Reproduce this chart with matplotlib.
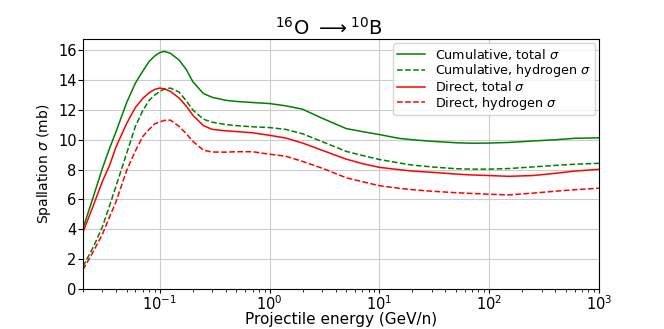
import matplotlib
matplotlib.use("Agg")
import matplotlib.pyplot as plt
import numpy as np

# Energy grid (GeV/n)
energy = [0.02, 0.025, 0.03, 0.035, 0.04, 0.05, 0.06, 0.07, 0.08, 0.09,
          0.1, 0.11, 0.125, 0.15, 0.175, 0.2, 0.25, 0.3, 0.4, 0.5,
          0.7, 1, 1.4, 2, 3, 5, 7, 10, 15, 20,
          30, 50, 70, 100, 150, 250, 400, 600, 1000]

cum_total = [4.05, 6.25, 8.07, 9.45, 10.55, 12.5, 13.8, 14.6, 15.25, 15.62,
             15.85, 15.93, 15.8, 15.35, 14.7, 13.9, 13.1, 12.85, 12.65, 12.57,
             12.5, 12.43, 12.28, 12.05, 11.45, 10.75, 10.55, 10.35, 10.1, 10.0,
             9.9, 9.8, 9.77, 9.78, 9.82, 9.92, 10.0, 10.1, 10.13]

cum_hydrogen = [1.5, 2.85, 4.15, 5.6, 6.9, 9.1, 10.9, 11.95, 12.65, 13.0,
                13.25, 13.4, 13.47, 13.2, 12.6, 12.0, 11.38, 11.18, 11.02, 10.95,
                10.87, 10.82, 10.7, 10.4, 9.88, 9.22, 8.95, 8.68, 8.45, 8.3,
                8.18, 8.06, 8.03, 8.03, 8.07, 8.18, 8.28, 8.36, 8.42]

dir_total = [3.8, 5.65, 7.2, 8.3, 9.53, 11.1, 12.17, 12.77, 13.15, 13.38,
             13.47, 13.42, 13.25, 12.8, 12.25, 11.65, 10.95, 10.7, 10.6, 10.55,
             10.47, 10.3, 10.12, 9.78, 9.3, 8.7, 8.4, 8.15, 8.0, 7.9,
             7.82, 7.7, 7.64, 7.6, 7.55, 7.6, 7.75, 7.9, 8.02]

dir_hydrogen = [1.28, 2.55, 3.65, 4.85, 5.85, 7.95, 9.25, 10.22, 10.7, 11.07,
                11.2, 11.3, 11.32, 10.9, 10.4, 9.9, 9.3, 9.18, 9.17, 9.2,
                9.2, 9.03, 8.9, 8.55, 8.1, 7.45, 7.19, 6.92, 6.75, 6.65,
                6.55, 6.45, 6.4, 6.35, 6.3, 6.42, 6.55, 6.65, 6.75]

fig = plt.figure(figsize=(6.64, 3.29), dpi=100)
ax = fig.add_axes([0.125, 0.122, 0.777, 0.759])

ax.plot(energy, cum_total, color="green", lw=1.1, label=r"Cumulative, total $\sigma$")
ax.plot(energy, cum_hydrogen, color="green", lw=1.1, linestyle="--", label=r"Cumulative, hydrogen $\sigma$")
ax.plot(energy, dir_total, color="red", lw=1.1, label=r"Direct, total $\sigma$")
ax.plot(energy, dir_hydrogen, color="red", lw=1.1, linestyle="--", label=r"Direct, hydrogen $\sigma$")

ax.set_xscale("log")
ax.set_xlim(0.02, 1000)
ax.set_ylim(0, 16.75)
ax.set_yticks(np.arange(0, 17, 2))
ax.grid(True, which="major", color="#cccccc", lw=0.8)
ax.tick_params(axis="both", labelsize=10.5, pad=1)
ax.tick_params(axis="x", which="major", length=3)
ax.set_xlabel("Projectile energy (GeV/n)", fontsize=11, labelpad=-0.5)
ax.set_ylabel(r"Spallation $\sigma$ (mb)", fontsize=10, labelpad=4)
ax.set_title(r"$^{16}$O $\longrightarrow$$^{10}$B", fontsize=14, pad=3, x=0.476)
ax.legend(loc="upper right", fontsize=9.2, handlelength=2.2, labelspacing=0.02,
          borderaxespad=0.3, borderpad=0.3)

fig.savefig("out.png", dpi=100)
